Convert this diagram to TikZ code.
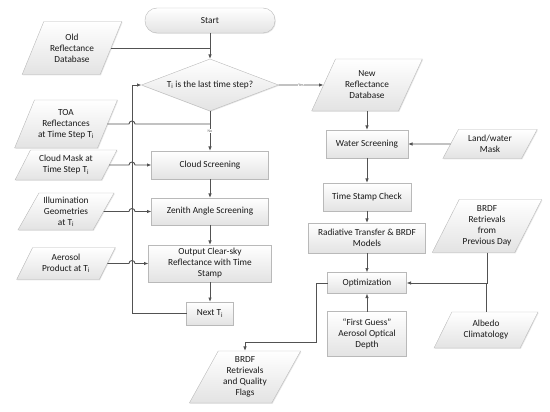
\documentclass[tikz,border=0pt]{standalone}
\usepackage{fontspec}
\setmainfont{Carlito}
\usetikzlibrary{positioning,shapes.geometric,arrows.meta,shadows}

\begin{document}
\begin{tikzpicture}[on grid, font=\fontsize{9.3}{11}\selectfont]
  \tikzset{
    boxbase/.style={draw=gray!55, top color=white, bottom color=gray!22, text=black!90, align=center, inner sep=1pt, outer sep=0pt, drop shadow={opacity=0.18, shadow xshift=0.8pt, shadow yshift=-0.8pt}},
    process/.style={boxbase, rectangle},
    terminal/.style={boxbase, rectangle, rounded corners=12pt},
    dataio/.style={boxbase, trapezium, trapezium left angle=60, trapezium right angle=120, trapezium stretches=true},
    decision/.style={boxbase, diamond, aspect=2.6},
    flowline/.style={draw=black!68, line width=0.9pt},
    flow/.style={flowline, -{Latex[length=4.5pt,width=3.5pt]}},
    note/.style={font=\fontsize{4}{4}\selectfont, fill=white, inner sep=0.5pt, text=black!60}
  }

  \useasboundingbox (0,0) rectangle (550pt,-412pt);

  \node[terminal, minimum width=130pt, minimum height=25pt] (start) at (210pt,-20.5pt) {Start};
  \node[dataio, minimum width=100pt, minimum height=53pt, below left=27.5pt and 138pt of start] (olddb) {Old\\Reflectance\\Database};
  \node[decision, minimum width=137pt, minimum height=52pt, below=64.5pt of start] (last) {T\textsubscript{i} is the last time step?};
  \node[dataio, minimum width=111pt, minimum height=52pt, right=157pt of last] (newdb) {New\\Reflectance\\Database};
  \node[process, minimum width=82pt, minimum height=28pt, below=59pt of newdb] (water) {Water Screening};
  \node[dataio, minimum width=95pt, minimum height=29pt, right=123pt of water] (landmask) {Land/water\\Mask};
  \node[process, minimum width=88pt, minimum height=28pt, below=53pt of water] (stamp) {Time Stamp Check};
  \node[process, minimum width=117pt, minimum height=30pt, below=41pt of stamp] (rtm) {Radiative Transfer \& BRDF\\Models};
  \node[dataio, minimum width=110pt, minimum height=53pt, above right=12pt and 120pt of rtm] (prevbrdf) {BRDF\\Retrievals\\from\\Previous Day};
  \node[process, minimum width=79pt, minimum height=21pt, below=45pt of rtm] (optim) {Optimization};
  \node[process, minimum width=79pt, minimum height=45pt, below=51pt of optim] (guess) {“First Guess”\\Aerosol Optical\\Depth};
  \node[dataio, minimum width=104pt, minimum height=36pt, below right=47pt and 119pt of optim] (albedo) {Albedo\\Climatology};
  \node[dataio, minimum width=112pt, minimum height=52pt, below left=94pt and 122pt of optim] (brdfout) {BRDF\\Retrievals\\and Quality\\Flags};

  \node[process, minimum width=117pt, minimum height=28pt, below=80pt of last] (cloud) {Cloud Screening};
  \node[process, minimum width=117pt, minimum height=27pt, below=46.5pt of cloud] (zenith) {Zenith Angle Screening};
  \node[process, minimum width=123pt, minimum height=37pt, below=52pt of zenith] (output) {Output Clear-sky\\Reflectance with Time\\Stamp};
  \node[process, minimum width=47pt, minimum height=23pt, below=50pt of output] (next) {Next T\textsubscript{i}};
  \node[dataio, minimum width=102pt, minimum height=30pt, left=144pt of cloud] (cloudmask) {Cloud Mask at\\Time Step T\textsubscript{i}};
  \node[dataio, minimum width=103pt, minimum height=48pt, above=41pt of cloudmask] (toa) {TOA\\Reflectances\\at Time Step T\textsubscript{i}};
  \node[dataio, minimum width=97pt, minimum height=37pt, left=144pt of zenith] (illum) {Illumination\\Geometries\\at T\textsubscript{i}};
  \node[dataio, minimum width=99pt, minimum height=32pt, left=144pt of output] (aerosol) {Aerosol\\Product at T\textsubscript{i}};
  \coordinate[left=78pt of next] (loop);

  % main loop
  \draw[flow] (start) -- (last);
  \draw[flowline] (olddb.east) -- (olddb.east -| start);
  \draw[flow] (last) -- node[note] {Yes} (newdb);
  \draw[flow] (last) -- node[note] {No} (cloud);
  \draw[flow] (cloud) -- (zenith);
  \draw[flow] (zenith) -- (output);
  \draw[flow] (output) -- (next);
  \draw[flow] (next.west) -- (loop) |- (last.west);

  % inputs hopping over the loop line
  \draw[flowline] (toa.east) -- ([xshift=-3pt]loop |- toa.east) arc[start angle=180, end angle=0, radius=3pt] -- (toa.east -| last);
  \draw[flow] (cloudmask.east) -- ([xshift=-3pt]loop |- cloudmask.east) arc[start angle=180, end angle=0, radius=3pt] -- (cloud.west);
  \draw[flow] (illum.east) -- ([xshift=-3pt]loop |- illum.east) arc[start angle=180, end angle=0, radius=3pt] -- (zenith.west);
  \draw[flow] (aerosol.east) -- ([xshift=-3pt]loop |- aerosol.east) arc[start angle=180, end angle=0, radius=3pt] -- (output.west);

  % retrieval
  \draw[flow] (newdb) -- (water);
  \draw[flow] (landmask) -- (water);
  \draw[flow] (water) -- (stamp);
  \draw[flow] (stamp) -- (rtm);
  \draw[flow] (rtm) -- (optim);
  \draw[flow] (prevbrdf.south) |- (optim.east);
  \draw[flowline] (albedo.north) -- (albedo.north |- optim.east);
  \draw[flow] (guess) -- (optim);
  \draw[flow] (optim.west) -- ++(-11pt,0) |- ([yshift=9pt]brdfout.north) -- (brdfout.north);
\end{tikzpicture}
\end{document}
